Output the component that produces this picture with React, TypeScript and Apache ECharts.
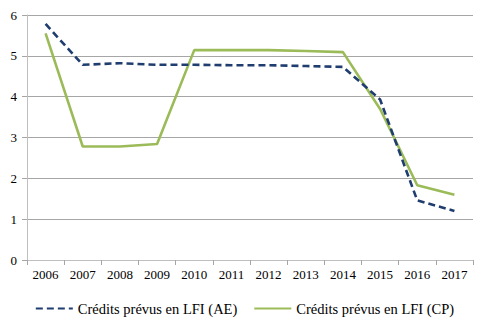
import React, { useEffect, useRef } from "react";
import * as echarts from "echarts";

const categories = ["2006", "2007", "2008", "2009", "2010", "2011", "2012", "2013", "2014", "2015", "2016", "2017"];
const aeValues = [5.78, 4.78, 4.82, 4.78, 4.78, 4.77, 4.77, 4.75, 4.73, 3.93, 1.46, 1.2];
const cpValues = [5.55, 2.78, 2.78, 2.84, 5.14, 5.14, 5.14, 5.12, 5.09, 3.7, 1.83, 1.6];
const yTicks = { min: 0, max: 6, interval: 1 };
const seriesNames = ["Crédits prévus en LFI (AE)", "Crédits prévus en LFI (CP)"];

const FONT = "Liberation Serif";

export default function App() {
  const ref = useRef<HTMLDivElement>(null);
  useEffect(() => {
    if (!ref.current) return;
    const chart = echarts.init(ref.current, null, { renderer: "svg" });
    chart.setOption({
      animation: false,
      backgroundColor: "#ffffff",
      textStyle: { fontFamily: FONT },
      grid: { left: 27, right: 16, top: 15, bottom: 67, containLabel: false },
      xAxis: {
        type: "category",
        data: categories,
        boundaryGap: true,
        axisLine: { show: true, lineStyle: { color: "#bfbfbf", width: 1 } },
        axisTick: { show: true, length: 5, interval: 0, lineStyle: { color: "#a6a6a6" } },
        axisLabel: { color: "#000", fontFamily: FONT, fontSize: 13, margin: 8, interval: 0 },
        splitLine: { show: false },
      },
      yAxis: {
        type: "value",
        min: yTicks.min,
        max: yTicks.max,
        interval: yTicks.interval,
        axisLine: { show: true, lineStyle: { color: "#bfbfbf", width: 1 } },
        axisTick: { show: true, length: 5, lineStyle: { color: "#a6a6a6" } },
        axisLabel: { color: "#000", fontFamily: FONT, fontSize: 13, margin: 10 },
        splitLine: { show: true, lineStyle: { color: "#a6a6a6", width: 1 } },
      },
      legend: {
        show: true,
        top: 296,
        left: "center",
        itemWidth: 37,
        itemHeight: 14,
        itemGap: 16,
        itemStyle: { opacity: 0 },
        textStyle: { color: "#000", fontFamily: FONT, fontSize: 14.5 },
        data: seriesNames,
      },
      series: [
        {
          name: seriesNames[0],
          type: "line",
          data: aeValues,
          symbol: "none",
          lineStyle: { color: "#1f3d6e", width: 2.6, type: [7, 4] },
          itemStyle: { color: "#1f3d6e" },
          z: 3,
        },
        {
          name: seriesNames[1],
          type: "line",
          data: cpValues,
          symbol: "none",
          lineStyle: { color: "#9bbb59", width: 2.6 },
          itemStyle: { color: "#9bbb59" },
          z: 2,
        },
      ],
    });
    return () => chart.dispose();
  }, []);
  return (
    <div
      ref={ref}
      style={{ position: "fixed", left: 0, top: 0, width: 489, height: 327, background: "#fff" }}
    />
  );
}
